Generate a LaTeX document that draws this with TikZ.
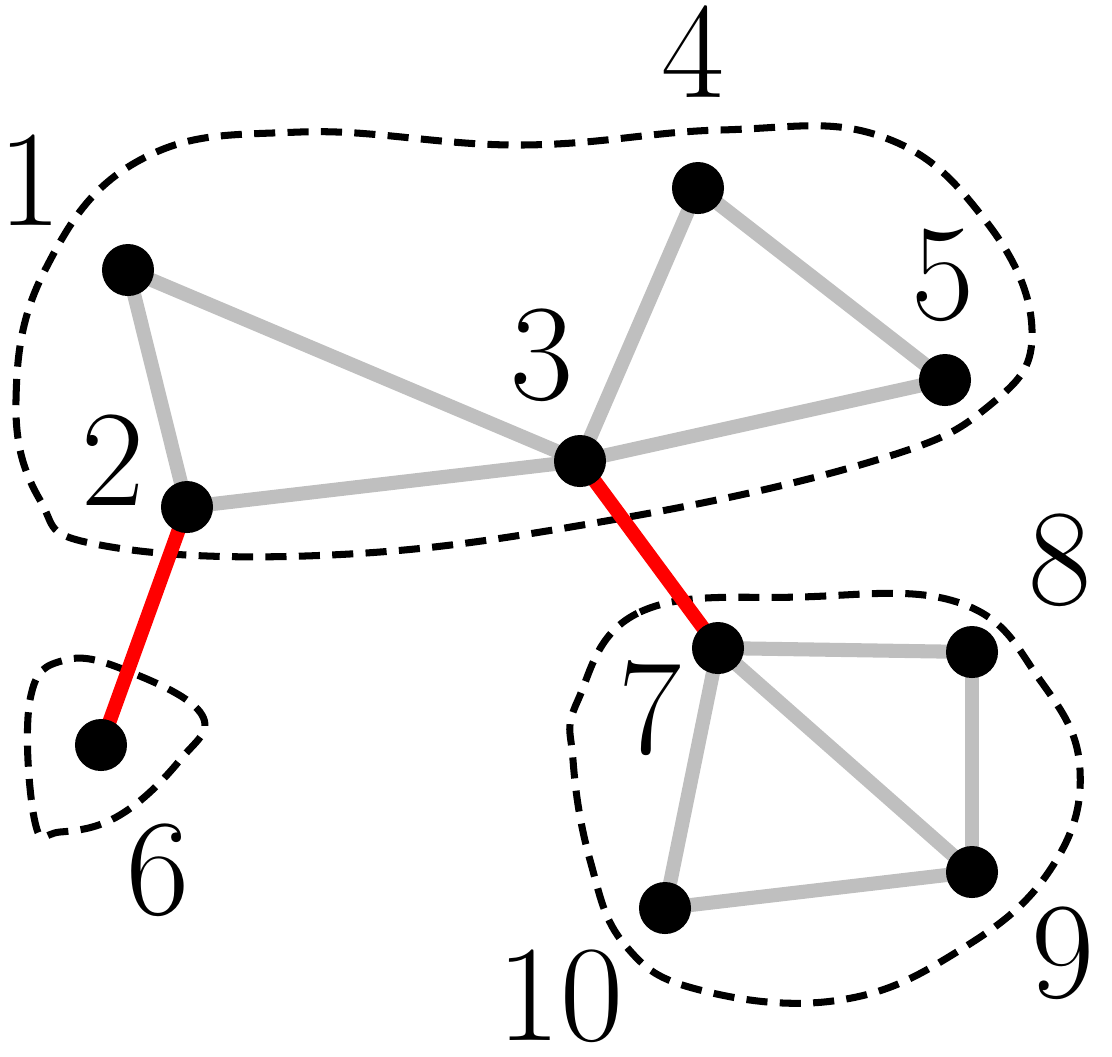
\documentclass[tikz,border=0pt]{standalone}
\begin{document}
\begin{tikzpicture}[x=0.01cm,y=-0.01cm,
  vtx/.style={circle,fill=black,minimum size=0.52cm,inner sep=0pt},
  lbl/.style={font=\fontsize{39}{40}\selectfont},
  gedge/.style={draw=black!25,line width=4pt},
  redge/.style={draw=red,line width=4pt},
  blob/.style={draw=black,line width=2pt,dash pattern=on 6pt off 3.5pt}]
\useasboundingbox (0,0) rectangle (1112,1056);
\draw[blob] plot[smooth cycle,tension=0.7] coordinates {(40,500) (16,400) (45,270) (140,160) (300,132) (520,145) (720,130) (880,136) (985,220) (1032,330) (990,405) (870,462) (600,522) (330,555) (100,545)};
\draw[blob] plot[smooth cycle,tension=0.7] coordinates {(35,822) (30,700) (65,660) (130,672) (202,715) (180,760) (120,815) (60,832)};
\draw[blob] plot[smooth cycle,tension=0.7] coordinates {(578,700) (640,612) (800,597) (960,603) (1040,680) (1080,770) (1050,870) (960,950) (840,1000) (700,990) (625,945) (590,860) (573,760)};
\coordinate (c1) at (128,270);
\coordinate (c2) at (187,507);
\coordinate (c3) at (580,461);
\coordinate (c4) at (698,188);
\coordinate (c5) at (945,380);
\coordinate (c6) at (101,745);
\coordinate (c7) at (718,648);
\coordinate (c8) at (972,652);
\coordinate (c9) at (972,872);
\coordinate (c10) at (665,908);
\foreach \a/\b in {c1/c2,c1/c3,c2/c3,c3/c4,c3/c5,c4/c5,c7/c8,c7/c9,c7/c10,c8/c9,c9/c10}
  \draw[gedge] (\a) -- (\b);
\draw[redge] (c2) -- (c6);
\draw[redge] (c3) -- (c7);
\foreach \i in {1,...,10}
  \node[vtx] (n\i) at (c\i) {};
\node[lbl] (l1) at (30,180) {1};
\node[lbl] (l2) at (113,460) {2};
\node[lbl] (l3) at (542,355) {3};
\node[lbl] (l4) at (693,52) {4};
\node[lbl] (l5) at (943,275) {5};
\node[lbl] (l6) at (158,870) {6};
\node[lbl] (l7) at (650,708) {7};
\node[lbl] (l8) at (1060,560) {8};
\node[lbl] (l9) at (1063,953) {9};
\node[lbl] (l10) at (560,996) {10};
\end{tikzpicture}
\end{document}
